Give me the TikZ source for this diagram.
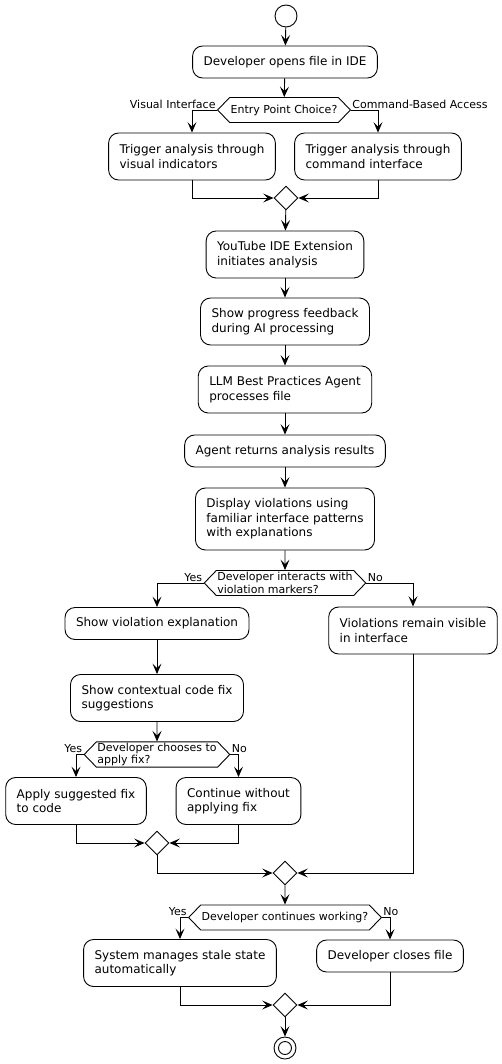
\documentclass[tikz,border=0pt]{standalone}
\usepackage{fontspec}
\setmainfont{DejaVu Sans}
\usetikzlibrary{shapes.geometric, shapes.symbols, arrows.meta}
\newcommand{\boxfont}{\fontsize{12}{14.5}\selectfont}
\newcommand{\choicefont}{\fontsize{11}{12.5}\selectfont}

\begin{document}
\begin{tikzpicture}[
			x=1pt, y=-1pt,
			>={Stealth[length=10.5pt,width=9pt,inset=4.5pt]},
			line width=0.9pt,
			activity/.style={
				draw,
				rounded corners=10pt,
				align=left,
				inner xsep=11pt,
				inner ysep=3pt,
				minimum height=32pt,
				font=\boxfont,
				fill=white
			},
			twoline/.style={minimum height=47pt},
			threeline/.style={minimum height=62pt},
			choice/.style={
				draw,
				signal,
				signal to=west and east,
				signal pointer angle=92,
				align=left,
				inner xsep=1pt,
				inner ysep=1pt,
				minimum height=25pt,
				font=\choicefont
			},
			merge/.style={draw, diamond, minimum size=24pt, inner sep=0pt},
			branchlabel/.style={font=\choicefont, inner sep=1pt},
			startpoint/.style={draw, circle, minimum size=22pt, inner sep=0pt},
			endpoint/.style={
				draw,
				circle,
				minimum size=22pt,
				inner sep=0pt,
				path picture={\draw (path picture bounding box.center) circle (6.5pt);}
			},
			every edge/.style={draw, ->}
			]
			\useasboundingbox (0,0) rectangle (502,1064);
			
			% Start and entry
			\node[startpoint] (start) at (286,16) {};
			\node[activity] (b1) at (285,62) {Developer opens file in IDE};
			\node[choice] (d1) at (284,110) {Entry Point Choice?};
			\node[activity, twoline] (b2l) at (192,156.5) {Trigger analysis through\\visual indicators};
			\node[activity, twoline] (b2r) at (378,156.5) {Trigger analysis through\\command interface};
			\node[merge] (m1) at (286,198) {};
			
			% Analysis
			\node[activity, twoline] (b3) at (285,254.5) {YouTube IDE Extension\\initiates analysis};
			\node[activity, twoline] (b4) at (285,321.5) {Show progress feedback\\during AI processing};
			\node[activity, twoline] (b5) at (285,389.5) {LLM Best Practices Agent\\processes file};
			\node[activity] (b6) at (285,451) {Agent returns analysis results};
			\node[activity, threeline] (b7) at (285,519) {Display violations using\\familiar interface patterns\\with explanations};
			
			% Interaction
			\node[choice] (d2) at (285,583) {Developer interacts with\\violation markers?};
			\node[activity] (b8) at (157,623.5) {Show violation explanation};
			\node[activity, twoline] (b9) at (413,630.5) {Violations remain visible\\in interface};
			\node[activity, twoline] (b10) at (157,698) {Show contextual code fix\\suggestions};
			\node[choice] (d3) at (157,754.5) {Developer chooses to\\apply fix?};
			\node[activity, twoline] (b11) at (76,801) {Apply suggested fix\\to code};
			\node[activity, twoline] (b12) at (238.5,801) {Continue without\\applying fix};
			\node[merge] (m3) at (157,843) {};
			\node[merge] (m4) at (285,873) {};
			
			% Closing
			\node[choice] (d4) at (285,917.5) {Developer continues working?};
			\node[activity, twoline] (b13) at (180,963) {System manages stale state\\automatically};
			\node[activity] (b14) at (390,956) {Developer closes file};
			\node[merge] (m5) at (285,1005) {};
			\node[endpoint] (end) at (285,1048) {};
			
			% Branch labels
			\node[branchlabel, anchor=south east] at (d1.west) {Visual Interface};
			\node[branchlabel, anchor=south west] at (d1.east) {Command-Based Access};
			\node[branchlabel, anchor=south east] at (d2.west) {Yes};
			\node[branchlabel, anchor=south west] at (d2.east) {No};
			\node[branchlabel, anchor=south east] at (d3.west) {Yes};
			\node[branchlabel, anchor=south west] at (d3.east) {No};
			\node[branchlabel, anchor=south east] at (d4.west) {Yes};
			\node[branchlabel, anchor=south west] at (d4.east) {No};
			
			% Transitions
			\path
			(start) edge (b1)
			(b1) edge (d1)
			(m1) edge (b3)
			(b3) edge (b4)
			(b4) edge (b5)
			(b5) edge (b6)
			(b6) edge (b7)
			(b7) edge (d2)
			(b8) edge (b10)
			(b10) edge (d3)
			(m4) edge (d4)
			(m5) edge (end);
			
			\draw[->] (d1.west) -| (b2l);
			\draw[->] (d1.east) -| (b2r);
			\draw[->] (b2l) |- (m1);
			\draw[->] (b2r) |- (m1);
			\draw[->] (d2.west) -| (b8);
			\draw[->] (d2.east) -| (b9);
			\draw[->] (d3.west) -| (b11);
			\draw[->] (d3.east) -| (b12);
			\draw[->] (b11) |- (m3);
			\draw[->] (b12) |- (m3);
			\draw[->] (m3) |- (m4);
			\draw[->] (b9) |- (m4);
			\draw[->] (d4.west) -| (b13);
			\draw[->] (d4.east) -| (b14);
			\draw[->] (b13) |- (m5);
			\draw[->] (b14) |- (m5);
		\end{tikzpicture}
\end{document}
